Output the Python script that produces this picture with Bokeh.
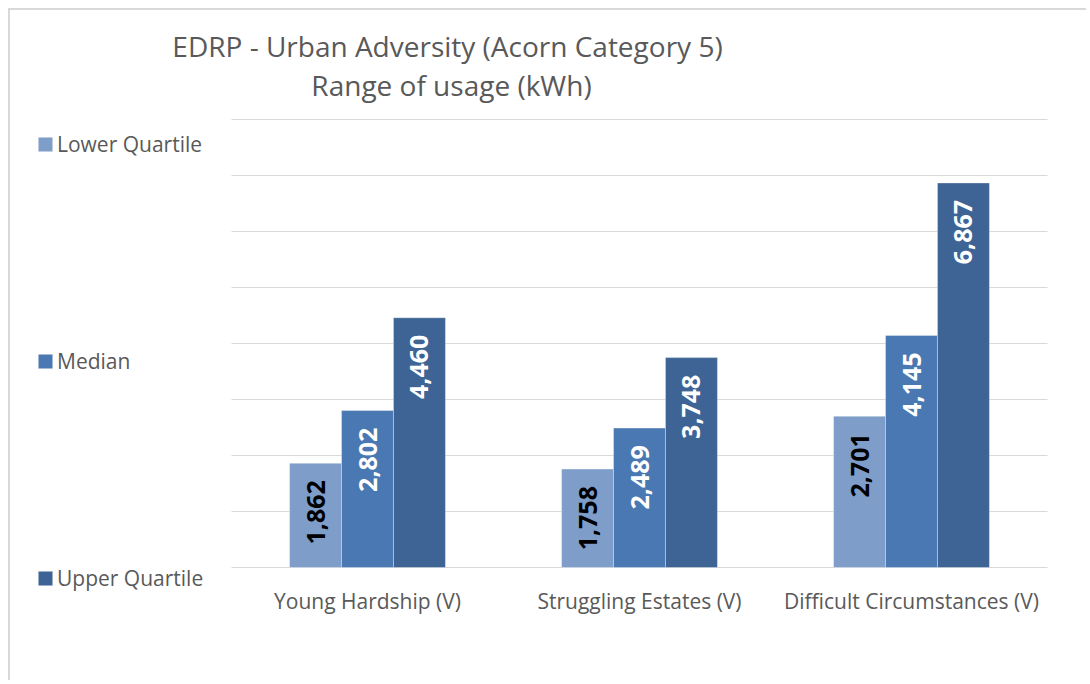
from bokeh.plotting import figure
from bokeh.models import ColumnDataSource, Range1d, Label, Legend, LegendItem
from bokeh.transform import dodge
from bokeh.core.properties import value
from bokeh.embed import file_html
from bokeh.resources import INLINE

categories = ["Young Hardship (V)", "Struggling Estates (V)", "Difficult Circumstances (V)"]
series_names = ["Lower Quartile", "Median", "Upper Quartile"]
lower_quartile = [1862, 1758, 2701]
median = [2802, 2489, 4145]
upper_quartile = [4460, 3748, 6867]
y_ticks = [0, 1000, 2000, 3000, 4000, 5000, 6000, 7000, 8000]
title_lines = ["EDRP - Urban Adversity (Acorn Category 5)", "Range of usage (kWh)"]

colors = ["#7e9dc9", "#4a78b2", "#3d6494"]
label_colors = ["#000000", "#ffffff", "#ffffff"]
offsets = [-0.191, 0.0, 0.191]
bar_w = 0.191
FONT = "Open Sans"
GREY = "#595959"
GRID = "#d9d9d9"

n = len(categories)
src = ColumnDataSource(dict(
    cat=categories,
    xc=[i + 0.5 for i in range(n)],
    lq=lower_quartile, med=median, uq=upper_quartile,
    lq_t=[f"{v:,}" for v in lower_quartile],
    med_t=[f"{v:,}" for v in median],
    uq_t=[f"{v:,}" for v in upper_quartile],
))
grid_src = ColumnDataSource(dict(y=y_ticks, x0=[0] * len(y_ticks), x1=[n] * len(y_ticks)))

W, H = 1078, 672
px_per_x = 272.0
px_per_y = 0.056
x_left_px, y_base_px = 221, 557
p = figure(x_range=Range1d(-x_left_px / px_per_x, (W - x_left_px) / px_per_x),
           y_range=Range1d(-(H - y_base_px) / px_per_y, y_base_px / px_per_y),
           width=W, height=H, output_backend="svg", toolbar_location=None,
           x_axis_location=None, y_axis_location=None,
           min_border=0, min_border_left=0, min_border_right=0,
           min_border_top=0, min_border_bottom=0)
p.margin = (8, 0, 0, 8)
p.styles = {"border-left": "2px solid #d9d9d9", "border-top": "2px solid #d9d9d9"}
p.outline_line_color = None
p.background_fill_color = "white"
p.border_fill_color = "white"
p.xgrid.visible = False
p.ygrid.visible = False

# gridlines (value axis)
p.segment(x0="x0", x1="x1", y0="y", y1="y", source=grid_src, line_color=GRID, line_width=1)

renderers = []
for col, color, lc, off in zip(["lq", "med", "uq"], colors, label_colors, offsets):
    r = p.vbar(x=dodge("xc", off), top=col, width=bar_w, source=src,
               fill_color=color, line_color="#ffffff", line_alpha=0.35, line_width=1)
    renderers.append(r)
    p.text(x=dodge("xc", off), y=col, text=col + "_t", source=src,
           angle=1.5707963, text_align="right", text_baseline="middle", y_offset=17,
           text_font=value(FONT), text_font_style="bold", text_font_size="25px",
           text_color=lc)

# category axis labels
p.text(x="xc", y=0, text="cat", source=src, text_align="center", text_baseline="middle",
       y_offset=33, text_font=value(FONT), text_font_size="21px", text_color=GREY)

legend = Legend(items=[LegendItem(label=s, renderers=[r]) for s, r in zip(series_names, renderers)],
                location=(26, 90), orientation="vertical", padding=0, margin=0,
                spacing=189, glyph_width=18, glyph_height=18, label_standoff=3,
                label_height=28, label_text_font=FONT, label_text_font_size="21px",
                label_text_color=GREY, border_line_color=None, background_fill_alpha=0)
p.add_layout(legend)

p.add_layout(Label(x=437, y=H - 35.5, x_units="screen", y_units="screen", text=title_lines[0],
                   text_align="center", text_baseline="middle", text_font=FONT,
                   text_font_size="28px", text_color=GREY))
p.add_layout(Label(x=441, y=H - 74, x_units="screen", y_units="screen", text=title_lines[1],
                   text_align="center", text_baseline="middle", text_font=FONT,
                   text_font_size="28px", text_color=GREY))

open("out.html", "w").write(file_html(p, INLINE))
